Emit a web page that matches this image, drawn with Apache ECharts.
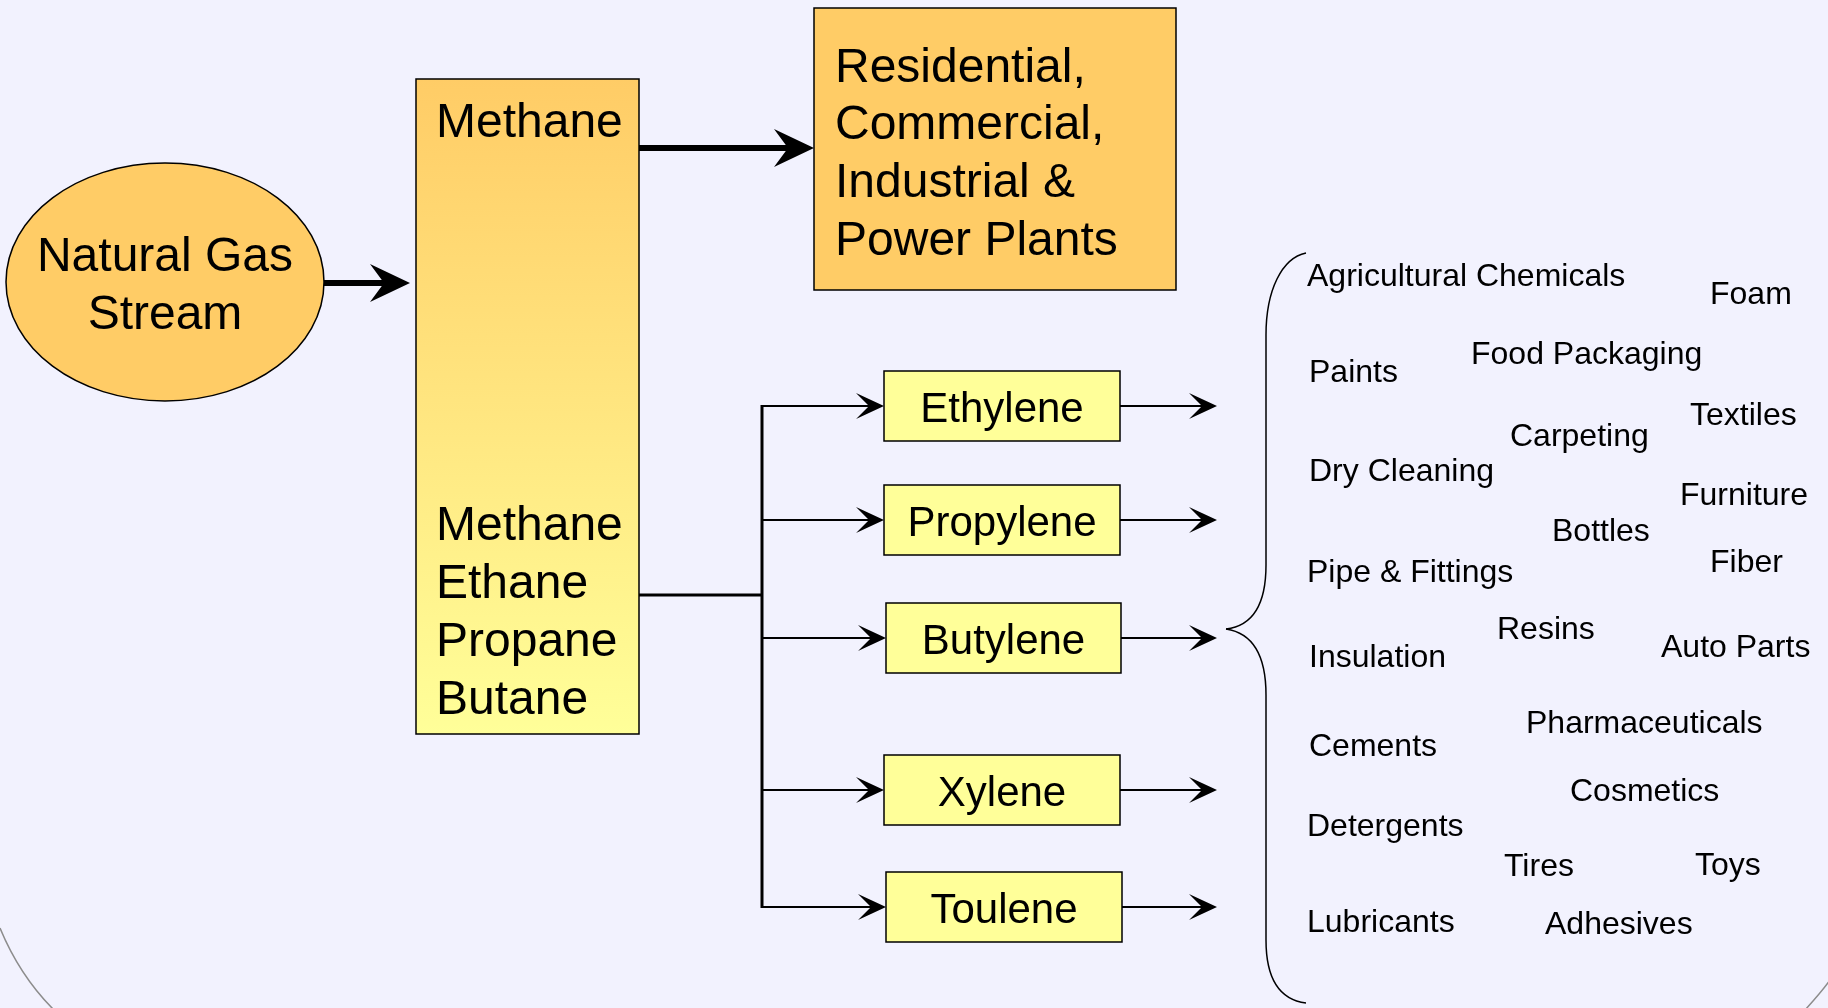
<!DOCTYPE html>
<html><head><meta charset="utf-8">
<script src="https://cdn.jsdelivr.net/npm/echarts@6/dist/echarts.min.js"></script>
<style>html,body{margin:0;padding:0;background:#f2f2fe}#c{width:1828px;height:1008px}</style>
</head><body><div id="c"></div>
<script>
// ---- content (labels) ----
const sourceLabels = ['Natural Gas', 'Stream'];
const methaneLabel = 'Methane';
const mixLabels = ['Methane', 'Ethane', 'Propane', 'Butane'];
const endUseLabels = ['Residential,', 'Commercial,', 'Industrial &', 'Power Plants'];
const petrochemicals = ['Ethylene', 'Propylene', 'Butylene', 'Xylene', 'Toulene'];
const products = ['Agricultural Chemicals', 'Foam', 'Paints', 'Food Packaging', 'Textiles',
  'Carpeting', 'Dry Cleaning', 'Furniture', 'Bottles', 'Fiber', 'Pipe & Fittings', 'Resins',
  'Auto Parts', 'Insulation', 'Pharmaceuticals', 'Cements', 'Cosmetics', 'Detergents',
  'Tires', 'Toys', 'Lubricants', 'Adhesives'];

// ---- layout (pixel positions) ----
const petroBoxes = [[884, 371, 236, 70], [884, 485, 236, 70], [886, 603, 235, 70], [884, 755, 236, 70], [886, 872, 236, 70]];
const productPos = [[1307, 275], [1710, 293], [1309, 371], [1471, 353], [1690, 414],
  [1510, 435], [1309, 470], [1680, 494], [1552, 530], [1710, 561], [1307, 571], [1497, 628],
  [1661, 646], [1309, 656], [1526, 722], [1309, 745], [1570, 790], [1307, 825],
  [1504, 865], [1695, 864], [1307, 921], [1545, 923]];

const FONT = "'Liberation Sans', Arial, sans-serif";
const ORANGE = '#FFCC66', YELLOW = '#FFFF99';

function txt(t, x, y, size, align) {
  return { type: 'text', z: 10, style: { text: t, x: x, y: y, font: size + 'px ' + FONT, fill: '#000',
    textAlign: align || 'left', textVerticalAlign: 'middle' } };
}
function arrow(x1, x2, y, w, L, H, N) {
  return [
    { type: 'line', z: 5, shape: { x1: x1, y1: y, x2: x2 - N, y2: y }, style: { stroke: '#000', lineWidth: w } },
    { type: 'polygon', z: 6, shape: { points: [[x2, y], [x2 - L, y - H], [x2 - N, y], [x2 - L, y + H]] }, style: { fill: '#000' } }
  ];
}

const BIG = 48, MID = 42, SMALL = 32;
const g = [];
// background outline curves
g.push({ type: 'bezierCurve', shape: { x1: 0, y1: 928, cpx1: 14, cpy1: 962, cpx2: 32, cpy2: 988, x2: 54, y2: 1010 }, style: { stroke: '#8c8c8c', lineWidth: 1.5, fill: null } });
g.push({ type: 'bezierCurve', shape: { x1: 1830, y1: 980, cpx1: 1823, cpy1: 990, cpx2: 1815, cpy2: 999, x2: 1805, y2: 1010 }, style: { stroke: '#8c8c8c', lineWidth: 1.5, fill: null } });

// source ellipse
g.push({ type: 'ellipse', shape: { cx: 165, cy: 282, rx: 159, ry: 119 }, style: { fill: ORANGE, stroke: '#000', lineWidth: 1.5 } });
g.push(txt(sourceLabels[0], 165, 257.5, BIG, 'center'));
g.push(txt(sourceLabels[1], 165, 315.5, BIG, 'center'));
g.push(...arrow(324, 410, 283, 6, 40, 19, 26));

// methane column
g.push({ type: 'rect', shape: { x: 416, y: 79, width: 223, height: 655 }, style: {
  fill: new echarts.graphic.LinearGradient(0, 0, 0, 1, [{ offset: 0, color: ORANGE }, { offset: 1, color: YELLOW }]),
  stroke: '#000', lineWidth: 1.5 } });
g.push(txt(methaneLabel, 436, 123.5, BIG));
mixLabels.forEach((t, i) => g.push(txt(t, 436, 526.5 + i * 58, BIG)));
g.push(...arrow(639, 814, 148, 6, 40, 19, 26));

// end use box
g.push({ type: 'rect', shape: { x: 814, y: 8, width: 362, height: 282 }, style: { fill: ORANGE, stroke: '#000', lineWidth: 1.5 } });
endUseLabels.forEach((t, i) => g.push(txt(t, 835, 68.5 + i * 57.7, BIG)));

// branch lines
g.push({ type: 'line', shape: { x1: 639, y1: 595, x2: 762, y2: 595 }, style: { stroke: '#000', lineWidth: 3 } });
g.push({ type: 'line', shape: { x1: 762, y1: 405, x2: 762, y2: 908 }, style: { stroke: '#000', lineWidth: 3 } });

petrochemicals.forEach((t, i) => {
  const b = petroBoxes[i];
  const cy = b[1] + b[3] / 2;
  g.push(...arrow(762, b[0], cy, 2, 28, 13, 15));
  g.push({ type: 'rect', shape: { x: b[0], y: b[1], width: b[2], height: b[3] }, style: { fill: YELLOW, stroke: '#000', lineWidth: 1.5 } });
  g.push(txt(t, b[0] + b[2] / 2, cy + 4, MID, 'center'));
  g.push(...arrow(b[0] + b[2], 1217, cy, 2, 28, 13, 15));
});

// brace
const bs = { stroke: '#000', lineWidth: 1.5, fill: null };
g.push({ type: 'bezierCurve', shape: { x1: 1306, y1: 253, cpx1: 1282, cpy1: 258, cpx2: 1266, cpy2: 290, x2: 1266, y2: 335 }, style: bs });
g.push({ type: 'line', shape: { x1: 1266, y1: 335, x2: 1266, y2: 565 }, style: bs });
g.push({ type: 'bezierCurve', shape: { x1: 1266, y1: 565, cpx1: 1266, cpy1: 605, cpx2: 1252, cpy2: 626, x2: 1226, y2: 629 }, style: bs });
g.push({ type: 'bezierCurve', shape: { x1: 1226, y1: 629, cpx1: 1252, cpy1: 633, cpx2: 1266, cpy2: 655, x2: 1266, y2: 695 }, style: bs });
g.push({ type: 'line', shape: { x1: 1266, y1: 695, x2: 1266, y2: 940 }, style: bs });
g.push({ type: 'bezierCurve', shape: { x1: 1266, y1: 940, cpx1: 1266, cpy1: 982, cpx2: 1282, cpy2: 1000, x2: 1306, y2: 1003 }, style: bs });

products.forEach((t, i) => g.push(txt(t, productPos[i][0], productPos[i][1] + 2.5, SMALL)));

const chart = echarts.init(document.getElementById('c'), null, { renderer: 'canvas' });
chart.setOption({ backgroundColor: '#f2f2fe', animation: false, graphic: { elements: g } });
</script></body></html>
